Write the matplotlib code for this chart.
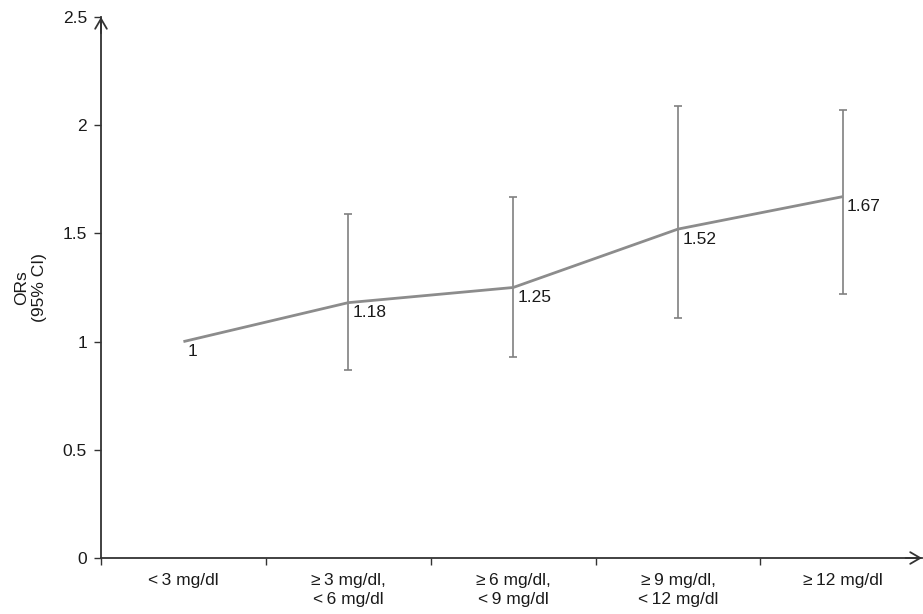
import numpy as np
import matplotlib
matplotlib.use("Agg")
import matplotlib.pyplot as plt

plt.rcParams['font.family'] = ['Liberation Sans', 'DejaVu Sans']

categories = ["<\u20093 mg/dl", "≥\u20093 mg/dl,\n<\u20096 mg/dl", "≥\u20096 mg/dl,\n<\u20099 mg/dl",
              "≥\u20099 mg/dl,\n<\u200912 mg/dl", "≥\u200912 mg/dl"]
ors = [1.0, 1.18, 1.25, 1.52, 1.67]
ci_low = [np.nan, 0.87, 0.93, 1.11, 1.22]
ci_high = [np.nan, 1.59, 1.67, 2.09, 2.07]
value_labels = ["1", "1.18", "1.25", "1.52", "1.67"]
yticks = [0, 0.5, 1, 1.5, 2, 2.5]
ytick_labels = ["0", "0.5", "1", "1.5", "2", "2.5"]

fig = plt.figure(figsize=(9.23, 6.14), dpi=100)
ax = fig.add_axes([101/923, 1-558/614, (922-101)/923, (558-17)/614])

x = np.arange(len(categories))
line_col = "#8c8c8c"
err_col = "#808080"
axis_col = "#333333"
txt_col = "#1a1a1a"
fs = 12.5

ax.plot(x, ors, color=line_col, lw=2.0, solid_capstyle='butt', zorder=3)
lo = np.array(ors) - np.array(ci_low)
hi = np.array(ci_high) - np.array(ors)
ax.errorbar(x, ors, yerr=[lo, hi], fmt='none', ecolor=err_col, elinewidth=1.2,
            capsize=2.7, capthick=1.2, zorder=2)

for xi, yi, lab in zip(x, ors, value_labels):
    ax.annotate(lab, (xi, yi), xytext=(3, -2), textcoords='offset points',
                ha='left', va='top', fontsize=fs, color=txt_col)

ax.set_xlim(-0.5, 4.48)
ax.set_ylim(0, 2.5)

for s in ['top', 'right']:
    ax.spines[s].set_visible(False)
for s in ['left', 'bottom']:
    ax.spines[s].set_color(axis_col)
    ax.spines[s].set_linewidth(1.3)

ax.set_yticks(yticks)
ax.set_yticklabels(ytick_labels, fontsize=fs, color=txt_col)
ax.tick_params(axis='y', direction='out', length=5, width=1.0, color=axis_col, pad=5)

ax.set_xticks([-0.5, 0.5, 1.5, 2.5, 3.5])
ax.set_xticklabels([])
ax.tick_params(axis='x', which='major', direction='out', length=5, width=1.0, color=axis_col)
ax.set_xticks(x, minor=True)
ax.set_xticklabels(categories, minor=True, fontsize=fs, color=txt_col, linespacing=1.35)
ax.tick_params(axis='x', which='minor', length=0, pad=11)

ax.set_ylabel("ORs\n(95% CI)", fontsize=fs, color=txt_col, linespacing=1.2)
ax.yaxis.set_label_coords(-0.066, 0.5)

# axis arrows
ax.annotate('', xy=(1.0, 0), xycoords='axes fraction', xytext=(0.98, 0),
            arrowprops=dict(arrowstyle='->,head_length=0.6,head_width=0.35',
                            color=axis_col, lw=1.3, mutation_scale=12, shrinkA=0, shrinkB=0),
            annotation_clip=False)
ax.annotate('', xy=(0, 1.0), xycoords='axes fraction', xytext=(0, 0.97),
            arrowprops=dict(arrowstyle='->,head_length=0.6,head_width=0.35',
                            color=axis_col, lw=1.3, mutation_scale=12, shrinkA=0, shrinkB=0),
            annotation_clip=False)

fig.savefig("out.png", dpi=100)
